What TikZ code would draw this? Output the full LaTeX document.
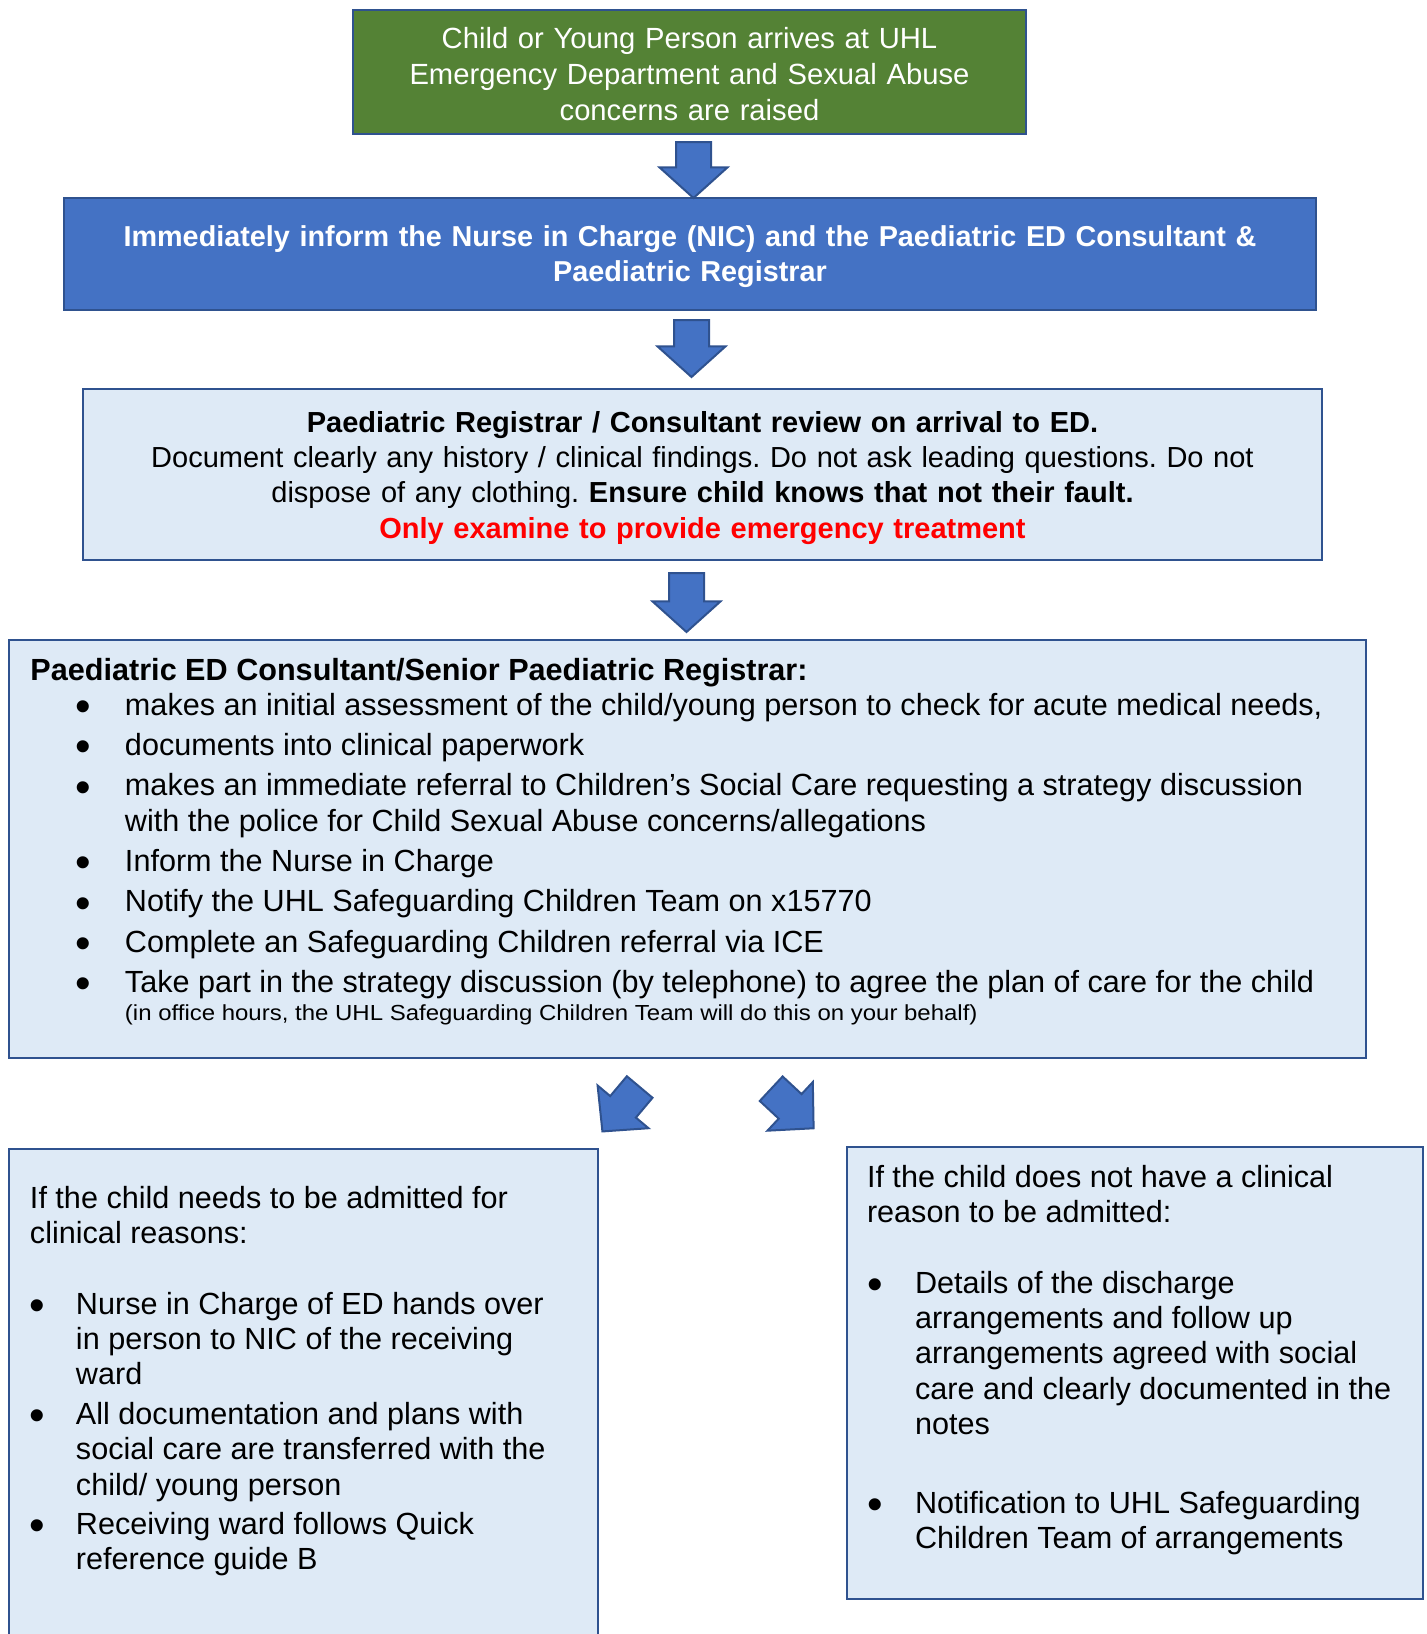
\documentclass[tikz,border=0pt]{standalone}
\usepackage{fontspec}
\setmainfont{Liberation Sans}
\usepackage{graphicx}
\usetikzlibrary{shapes.arrows,calc}

\definecolor{edgeblue}{HTML}{2F528F}
\definecolor{fillblue}{HTML}{4472C4}
\definecolor{fillgreen}{HTML}{548235}
\definecolor{paleblue}{HTML}{DEEAF6}
\definecolor{alertred}{HTML}{FF0000}

\newcommand{\headsize}{\fontsize{29}{35.4}\selectfont}
\newcommand{\bodysize}{\fontsize{30.6}{35.3}\selectfont}
\newcommand{\notesize}{\fontsize{21.8}{26}\selectfont}
\newcommand{\dotmark}{\raisebox{-6.3pt}{\scalebox{1.45}{\textbullet}}}
\newcommand{\topblock}[4]{\parbox[c][#2][t]{#1}{\bodysize\frenchspacing\raggedright\rule{0pt}{#3}#4}}

\newenvironment{pointlist}[4]{%
	\begin{list}{\dotmark}{%
		\setlength{\leftmargin}{#2}%
		\setlength{\labelwidth}{\dimexpr#2-#1\relax}%
		\setlength{\labelsep}{0pt}%
		\setlength{\itemsep}{#3}%
		\setlength{\topsep}{#4}%
		\setlength{\parsep}{0pt}%
		\setlength{\partopsep}{0pt}%
		\def\makelabel##1{\makebox[\labelwidth][l]{##1}}}}
	{\end{list}}

\tikzset{
	flowbox/.style={draw=edgeblue, line width=2.5pt, align=center, inner sep=0pt, outer sep=0pt},
	solidbox/.style={flowbox, text=white},
	palebox/.style={flowbox, fill=paleblue},
	listbox/.style={palebox, anchor=north west, align=left, inner ysep=0pt},
	downarrow/.style={single arrow, draw=edgeblue, fill=fillblue, line width=2pt, inner xsep=0pt, inner ysep=16.5pt, outer sep=0pt,
		minimum width=66pt, single arrow head extend=16.5pt, single arrow tip angle=96, anchor=tail},
	slantarrow/.style={downarrow, inner ysep=15.75pt, minimum width=64.5pt, minimum height=58pt, single arrow tip angle=92},
}

\begin{document}
\frenchspacing
\begin{tikzpicture}[x=1pt,y=-1pt]
	\useasboundingbox (0,0) rectangle (1427,1634);

	\node[solidbox, fill=fillgreen, font=\fontsize{29.2}{36}\selectfont, minimum width=673pt, minimum height=124pt, text width=660pt] (arrive) at (689.5,72) {
		\rule{0pt}{25.5pt}Child or Young Person arrives at UHL\\
		Emergency Department and Sexual Abuse\\
		concerns are raised
	};

	\node[solidbox, fill=fillblue, font=\fontsize{28.8}{35.4}\selectfont\bfseries, minimum width=1252pt, minimum height=112pt, text width=1230pt] (inform) at (690,254) {
		\rule{0pt}{26.5pt}Immediately inform the Nurse in Charge (NIC) and the Paediatric ED Consultant \&\\
		Paediatric Registrar
	};

	\node[palebox, font=\headsize, minimum width=1239pt, minimum height=171pt, text width=1220pt] (review) at (702.5,474.5) {
		\rule{0pt}{27.5pt}\textbf{Paediatric Registrar / Consultant review on arrival to ED.}\\
		Document clearly any history / clinical findings. Do not ask leading questions. Do not\\
		dispose of any clothing. \textbf{Ensure child knows that not their fault.}\\
		\textcolor{alertred}{\textbf{Only examine to provide emergency treatment}}
	};

	\node[listbox, minimum width=1357pt, minimum height=418pt, inner xsep=21.5pt] (assess) at (9,640) {\topblock{1314pt}{418pt}{40pt}{%
		\textbf{Paediatric ED Consultant/Senior Paediatric Registrar:}
		\begin{pointlist}{45.4pt}{94.5pt}{5pt}{0pt}
			\item makes an initial assessment of the child/young person to check for acute medical needs,
			\item documents into clinical paperwork
			\item makes an immediate referral to Children's Social Care requesting a strategy discussion\\
			with the police for Child Sexual Abuse concerns/allegations
			\item Inform the Nurse in Charge
			\item Notify the UHL Safeguarding Children Team on x15770
			\item Complete an Safeguarding Children referral via ICE
			\item Take part in the strategy discussion (by telephone) to agree the plan of care for the child\\[-7.3pt]
			{\notesize\scalebox{1.1}[1]{(in office hours, the UHL Safeguarding Children Team will do this on your behalf)}}
		\end{pointlist}}};

	\node[listbox, minimum width=589pt, minimum height=500pt, inner xsep=21pt] (admit) at (9,1149) {\topblock{547pt}{500pt}{59pt}{%
		If the child needs to be admitted for\\
		clinical reasons:
		\begin{pointlist}{-0.6pt}{46pt}{4.2pt}{35.7pt}
			\item Nurse in Charge of ED hands over\\
			in person to NIC of the receiving\\
			ward
			\item All documentation and plans with\\
			social care are transferred with the\\
			child/ young person
			\item Receiving ward follows Quick\\
			reference guide B
		\end{pointlist}}};

	\node[listbox, minimum width=576pt, minimum height=452pt, inner xsep=20pt] (discharge) at (847,1147) {\topblock{536pt}{452pt}{40pt}{%
		If the child does not have a clinical\\
		reason to be admitted:
		\begin{pointlist}{0.4pt}{48pt}{43.7pt}{35.7pt}
			\item Details of the discharge\\
			arrangements and follow up\\
			arrangements agreed with social\\
			care and clearly documented in the\\
			notes
			\item Notification to UHL Safeguarding\\
			Children Team of arrangements
		\end{pointlist}}};

	% block arrows between the boxes
	\node[downarrow, rotate=-90, minimum height=56pt] (step1) at ([shift={(4,8)}]arrive.south) {};
	\node[downarrow, rotate=-90, minimum height=57pt] (step2) at ([shift={(1.5,10)}]inform.south) {};
	\node[downarrow, rotate=-90, minimum height=59pt] (step3) at ([shift={(-16,13)}]review.south) {};
	\node[slantarrow, rotate=-130] (toadmit) at ([shift={(-47.8,29)}]assess.south) {};
	\node[slantarrow, rotate=-43] (todischarge) at ([shift={(83.7,30.7)}]assess.south) {};
\end{tikzpicture}
\end{document}
